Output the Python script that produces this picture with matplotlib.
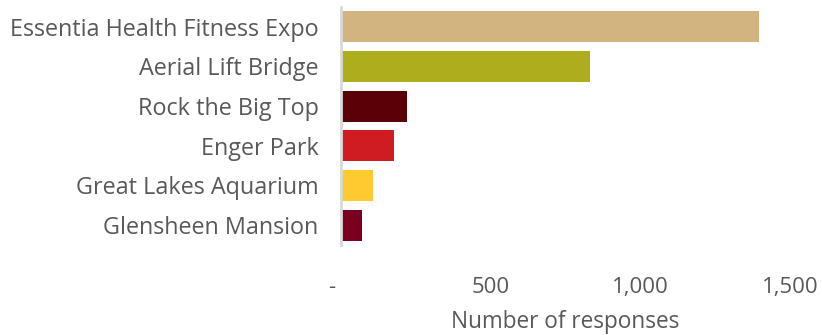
import matplotlib
matplotlib.use("Agg")
from matplotlib import pyplot as plt
from matplotlib.ticker import FuncFormatter

# Data (top to bottom as shown)
venues = ['Essentia Health Fitness Expo', 'Aerial Lift Bridge', 'Rock the Big Top',
          'Enger Park', 'Great Lakes Aquarium', 'Glensheen Mansion']
responses = [1397, 833, 220, 177, 107, 70]
colors = ['#D1B480', '#ADAD1D', '#5C0008', '#CF1C22', '#FFCA2F', '#7B0020']

plt.rcParams['font.family'] = ['Open Sans', 'DejaVu Sans']
text_col = '#595959'

fig = plt.figure(figsize=(8.22, 3.35), dpi=100)
ax = fig.add_axes([0.4145, 0.269, 0.547, 0.71])

ypos = list(range(len(venues)))[::-1]
ax.barh(ypos, responses, height=0.78, color=colors)

ax.set_xlim(0, 1500)
ax.set_ylim(-0.5, len(venues) - 0.5)
ax.set_xticks([0, 500, 1000, 1500])
ax.xaxis.set_major_formatter(FuncFormatter(lambda v, p: '-   ' if v == 0 else f'{int(v):,}'))
ax.set_yticks(ypos)
ax.set_yticklabels(venues)

for s in ['top', 'right', 'bottom']:
    ax.spines[s].set_visible(False)
ax.spines['left'].set_color('#d9d9d9')
ax.spines['left'].set_linewidth(2)

ax.tick_params(axis='x', length=0, pad=23, labelsize=16, labelcolor=text_col)
ax.tick_params(axis='y', length=0, pad=16, labelsize=16.8, labelcolor=text_col)
ax.set_xlabel('Number of responses', fontsize=16.3, color=text_col, labelpad=9)

fig.savefig('out.png', dpi=100)
